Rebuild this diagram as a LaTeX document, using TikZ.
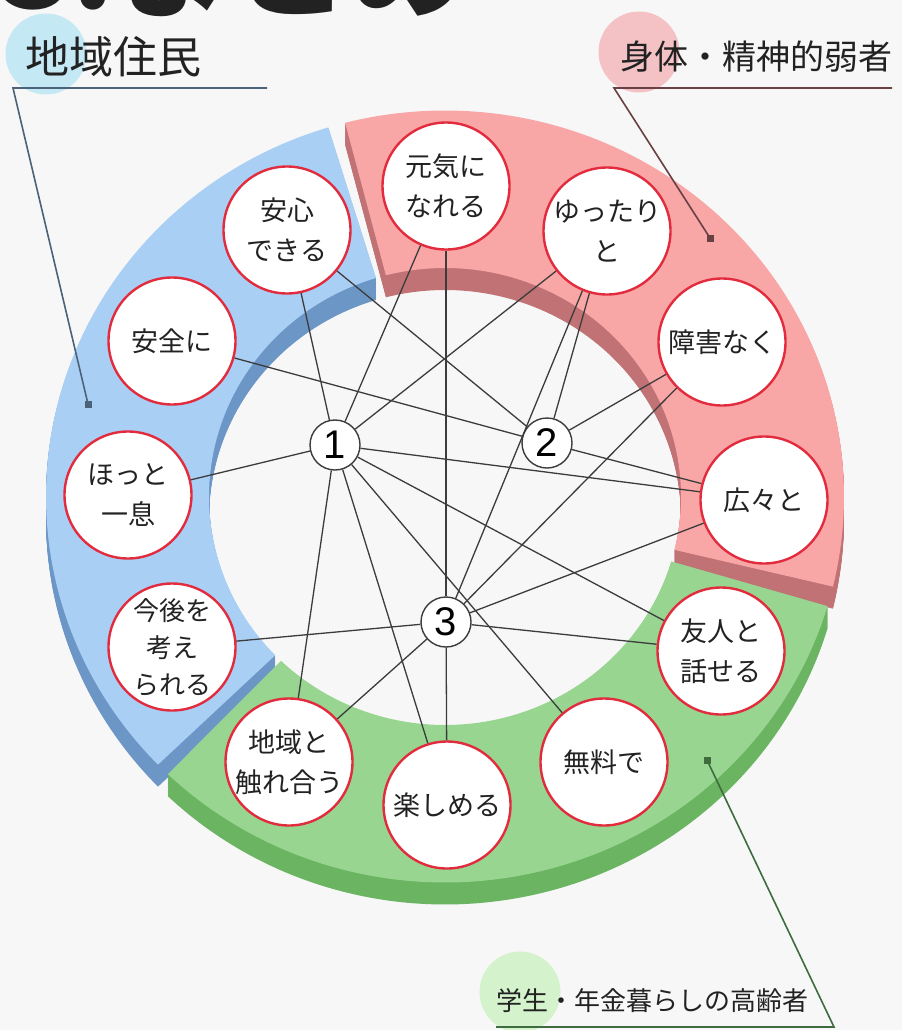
\documentclass[tikz,border=0pt]{standalone}
\usepackage{fontspec}
\setmainfont{Noto Sans CJK JP}
\newfontfamily\numfont{Liberation Sans}
\definecolor{bgcol}{RGB}{247,247,247}
\definecolor{bluetop}{RGB}{170,207,245}
\definecolor{bluedark}{RGB}{108,150,198}
\definecolor{redtop}{RGB}{249,166,167}
\definecolor{reddark}{RGB}{192,114,117}
\definecolor{greentop}{RGB}{152,213,144}
\definecolor{greendark}{RGB}{106,180,98}
\definecolor{bubbleborder}{RGB}{226,44,62}
\definecolor{linecol}{RGB}{60,60,60}
\definecolor{txt}{RGB}{34,34,34}
\definecolor{cyanlab}{RGB}{196,232,244}
\definecolor{pinklab}{RGB}{244,194,197}
\definecolor{greenlab}{RGB}{212,242,204}
\definecolor{leadA}{RGB}{75,98,120}
\definecolor{leadB}{RGB}{105,65,68}
\definecolor{leadC}{RGB}{62,108,62}
\newcommand\ringpart[4]{%
  \fill[#4] plot[domain=#1:#2, samples=120] ({445+399*cos(\x)},{496.5+#3-386*sin(\x)})
    -- plot[domain=#2:#1, samples=120] ({445+236*cos(\x)},{496.5+#3-228.5*sin(\x)}) -- cycle;}
\begin{document}
\begin{tikzpicture}[x=1pt,y=-1pt,
  bubble/.style={circle, draw=bubbleborder, line width=2.4pt, fill=white, minimum size=127pt,
    inner sep=0pt, align=center, font=\fontsize{27}{40}\selectfont, text=txt},
  numnode/.style={circle, draw=linecol, line width=1.4pt, fill=white, minimum size=50pt,
    inner sep=0pt, font=\numfont\fontsize{40}{40}\selectfont, text=black},
  link/.style={draw=linecol, line width=1.3pt},
  marker/.style={rectangle, inner sep=0pt, minimum size=7pt},
  labdot/.style={circle, inner sep=0pt, minimum size=81pt},
  labtext/.style={anchor=west, inner sep=0pt, text=txt}
]
\useasboundingbox (0,0) rectangle (902,1030);
\fill[bgcol] (0,0) rectangle (902,1030);

% title (cut off at the top)
\node[anchor=base west, inner sep=0pt, text=txt, font=\bfseries\fontsize{118}{118}\selectfont] (title) at (0,9) {3.まとめ};

% label dots
\node[labdot, fill=cyanlab] (dotA) at (46,54) {};
\node[labdot, fill=pinklab] (dotB) at (639,52) {};
\node[labdot, fill=greenlab] (dotC) at (520,992) {};

% ring
\foreach \s in {22,21,...,1} {\ringpart{107}{224}{\s}{bluedark}}
\ringpart{107}{224}{0}{bluetop}
\foreach \s in {22,21,...,1} {\ringpart{-13.5}{104.5}{\s}{reddark}}
\ringpart{-13.5}{104.5}{0}{redtop}
\foreach \s in {22,21,...,1} {\ringpart{226}{343.5}{\s}{greendark}}
\ringpart{226}{343.5}{0}{greentop}

% group labels
\node[labtext, font=\fontsize{44}{44}\selectfont] (labA) at (25,57) {地域住民};
\node[labtext, font=\fontsize{34}{34}\selectfont] (labB) at (620,57) {身体・精神的弱者};
\node[labtext, font=\fontsize{26}{26}\selectfont] (labC) at (496,1001) {学生・年金暮らしの高齢者};

% bubbles
\node[bubble] (anshin) at (287,230) {安心\\できる};
\node[bubble] (genki) at (446,186) {元気に\\なれる};
\node[bubble] (yuttari) at (607,231) {ゆったり\\と};
\node[bubble] (shogai) at (722,342) {障害なく};
\node[bubble] (hiro) at (764,500) {広々と};
\node[bubble] (yujin) at (721,651) {友人と\\話せる};
\node[bubble] (muryo) at (604,762) {無料で};
\node[bubble] (tanoshi) at (447,805) {楽しめる};
\node[bubble] (chiiki) at (289,762) {地域と\\触れ合う};
\node[bubble, font=\fontsize{26}{37}\selectfont] (kongo) at (172,647) {今後を\\考え\\られる};
\node[bubble] (hotto) at (128,495) {ほっと\\一息};
\node[bubble] (anzen) at (172,341) {安全に};

% numbered hubs
\node[numnode] (n1) at (335,445) {1};
\node[numnode] (n2) at (547,443) {2};
\node[numnode] (n3) at (446,622) {3};

% connectors
\foreach \t in {anshin,genki,yuttari,hotto,hiro,yujin,muryo,tanoshi,chiiki}
  {\path[link] (n1) -- (\t);}
\foreach \t in {anshin,anzen,yuttari,shogai,hiro}
  {\path[link] (n2) -- (\t);}
\foreach \t in {genki,yuttari,shogai,hiro,yujin,tanoshi,chiiki,kongo}
  {\path[link] (n3) -- (\t);}

% leader lines
\node[marker, fill=leadA] (sqA) at (88,404) {};
\node[marker, fill=leadB] (sqB) at (710,238) {};
\node[marker, fill=leadC] (sqC) at (707,760) {};
\coordinate (ulA1) at (13,88);
\coordinate (ulA2) at (267,88);
\coordinate (ulB1) at (614,88);
\coordinate (ulB2) at (892,88);
\coordinate (ulC1) at (496,1027);
\coordinate (ulC2) at (834,1027);
\draw[leadA, line width=1.6pt] (ulA2) -- (ulA1) -- (sqA.center);
\draw[leadB, line width=1.6pt] (ulB2) -- (ulB1) -- (sqB.center);
\draw[leadC, line width=1.6pt] (ulC1) -- (ulC2) -- (sqC.center);
\end{tikzpicture}
\end{document}
